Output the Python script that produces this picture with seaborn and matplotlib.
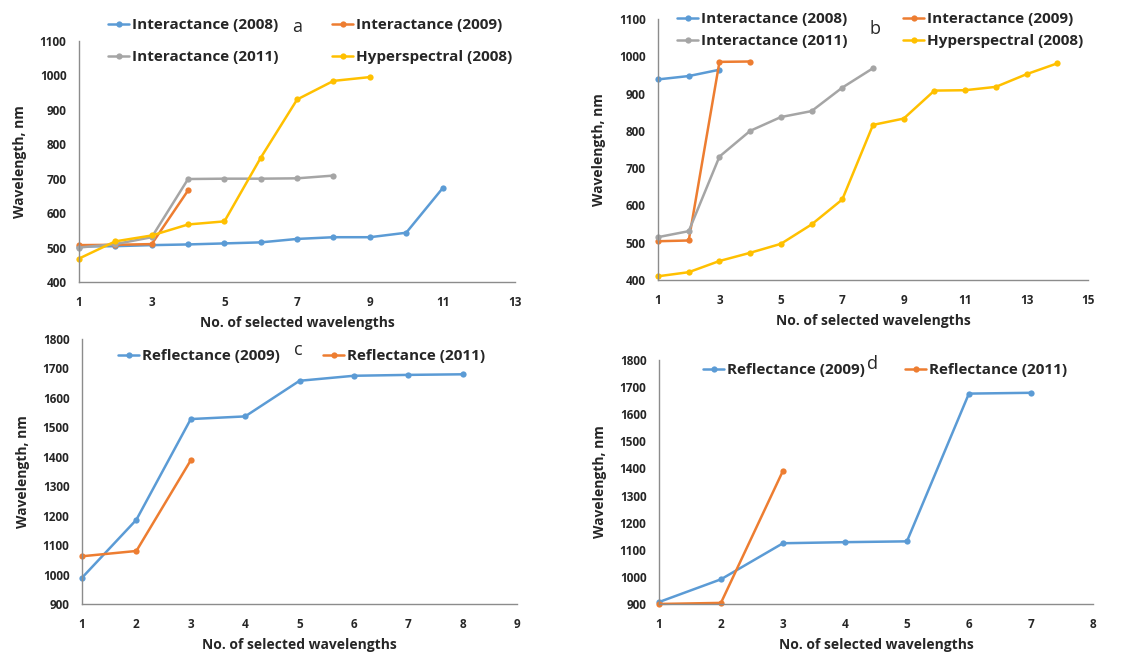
import matplotlib
matplotlib.use("Agg")
import matplotlib.pyplot as plt
import seaborn as sns
import pandas as pd

# ---------------- data ----------------
# Panel a
a_int2008 = [503, 504, 507, 509, 512, 515, 525, 530, 530, 543, 672]
a_int2009 = [507, 508, 510, 666]
a_int2011 = [500, 510, 530, 699, 700, 700, 701, 709]
a_hyp2008 = [468, 518, 535, 567, 576, 761, 930, 984, 995]
# Panel b
b_int2008 = [938, 947, 964]
b_int2009 = [504, 506, 985, 986]
b_int2011 = [515, 531, 731, 800, 837, 853, 916, 968]
b_hyp2008 = [410, 421, 451, 473, 497, 549, 616, 816, 833, 908, 909, 918, 952, 981]
# Panel c
c_ref2009 = [989, 1186, 1528, 1537, 1658, 1675, 1678, 1680]
c_ref2011 = [1062, 1080, 1388]
# Panel d
d_ref2009 = [907, 991, 1124, 1128, 1131, 1676, 1679]
d_ref2011 = [900, 904, 1391]

labels_int = ["Interactance (2008)", "Interactance (2009)",
              "Interactance (2011)", "Hyperspectral (2008)"]
labels_ref = ["Reflectance (2009)", "Reflectance (2011)"]

a_xticks = [1, 3, 5, 7, 9, 11, 13]
b_xticks = [1, 3, 5, 7, 9, 11, 13, 15]
c_xticks = [1, 2, 3, 4, 5, 6, 7, 8, 9]
d_xticks = [1, 2, 3, 4, 5, 6, 7, 8]
a_yticks = [400, 500, 600, 700, 800, 900, 1000, 1100]
c_yticks = [900, 1000, 1100, 1200, 1300, 1400, 1500, 1600, 1700, 1800]

colors = {"Interactance (2008)": "#5B9BD5", "Interactance (2009)": "#ED7D31",
          "Interactance (2011)": "#A5A5A5", "Hyperspectral (2008)": "#FFC000",
          "Reflectance (2009)": "#5B9BD5", "Reflectance (2011)": "#ED7D31"}

def long_df(series, labels):
    rows = []
    for vals, lab in zip(series, labels):
        for i, v in enumerate(vals):
            rows.append({"n": i + 1, "wl": v, "series": lab})
    return pd.DataFrame(rows)

sns.set_style("white")
plt.rcParams['font.family'] = ['Open Sans', 'DejaVu Sans']

fig = plt.figure(figsize=(11.45, 6.55), dpi=100)
W, H = 1145, 655
TXT = "#262626"

panels = [
    dict(rect=[0.069, 0.5695, 0.381, 0.368], series=[a_int2008, a_int2009, a_int2011, a_hyp2008],
         labels=labels_int, xticks=a_xticks, yticks=a_yticks, letter="a", letter_pos=(297, 27),
         leg_pos=[(108, 25), (332, 25), (108, 57), (332, 57)]),
    dict(rect=[0.5747, 0.5725, 0.3755, 0.3985], series=[b_int2008, b_int2009, b_int2011, b_hyp2008],
         labels=labels_int, xticks=b_xticks, yticks=a_yticks, letter="b", letter_pos=(875, 29),
         leg_pos=[(677, 19), (903, 19), (677, 41), (903, 41)]),
    dict(rect=[0.0716, 0.0779, 0.380, 0.4046], series=[c_ref2009, c_ref2011],
         labels=labels_ref, xticks=c_xticks, yticks=c_yticks, letter="c", letter_pos=(298, 350),
         leg_pos=[(118, 356), (323, 356)]),
    dict(rect=[0.5755, 0.0779, 0.379, 0.3725], series=[d_ref2009, d_ref2011],
         labels=labels_ref, xticks=d_xticks, yticks=c_yticks, letter="d", letter_pos=(873, 364),
         leg_pos=[(703, 370), (905, 370)]),
]

for p in panels:
    ax = fig.add_axes(p["rect"])
    df = long_df(p["series"], p["labels"])
    sns.lineplot(data=df, x="n", y="wl", hue="series", palette=colors,
                 hue_order=p["labels"], marker="o", markersize=4.5,
                 markeredgewidth=0, linewidth=1.8, sort=False, ax=ax, legend=False)
    ax.set_xlim(p["xticks"][0], p["xticks"][-1])
    ax.set_ylim(p["yticks"][0], p["yticks"][-1])
    ax.set_xticks(p["xticks"])
    ax.set_yticks(p["yticks"])
    ax.tick_params(axis="y", length=0, labelsize=8.5, pad=9, labelcolor=TXT)
    ax.tick_params(axis="x", length=0, labelsize=8.5, pad=10, labelcolor=TXT)
    for t in ax.get_xticklabels() + ax.get_yticklabels():
        t.set_fontweight("bold")
    ax.set_xlabel("No. of selected wavelengths", fontsize=10, fontweight="bold",
                  color=TXT, labelpad=5)
    ax.set_ylabel("Wavelength, nm", fontsize=10, fontweight="bold", color=TXT, labelpad=9)
    for s in ["top", "right"]:
        ax.spines[s].set_visible(False)
    for s in ["left", "bottom"]:
        ax.spines[s].set_color("#8C8C8C")
        ax.spines[s].set_linewidth(1.0)
    for ln in ax.lines:
        ln.set_clip_on(False)

    # legend entries, each placed where the reference shows it
    for lab, (px, py) in zip(p["labels"], p["leg_pos"]):
        h = plt.Line2D([], [], color=colors[lab], marker="o", markersize=4.5,
                       markeredgewidth=0, linewidth=1.8)
        leg = fig.legend([h], [lab], frameon=False, loc="center left",
                         bbox_to_anchor=(px / W, 1 - py / H),
                         fontsize=11, handlelength=1.4, handletextpad=0.15,
                         borderpad=0, borderaxespad=0)
        for t in leg.get_texts():
            t.set_fontweight("bold")
            t.set_color(TXT)
    fig.text(p["letter_pos"][0] / W, 1 - p["letter_pos"][1] / H, p["letter"],
             fontsize=13, ha="center", va="center", color=TXT)

fig.savefig("out.png", dpi=100)
